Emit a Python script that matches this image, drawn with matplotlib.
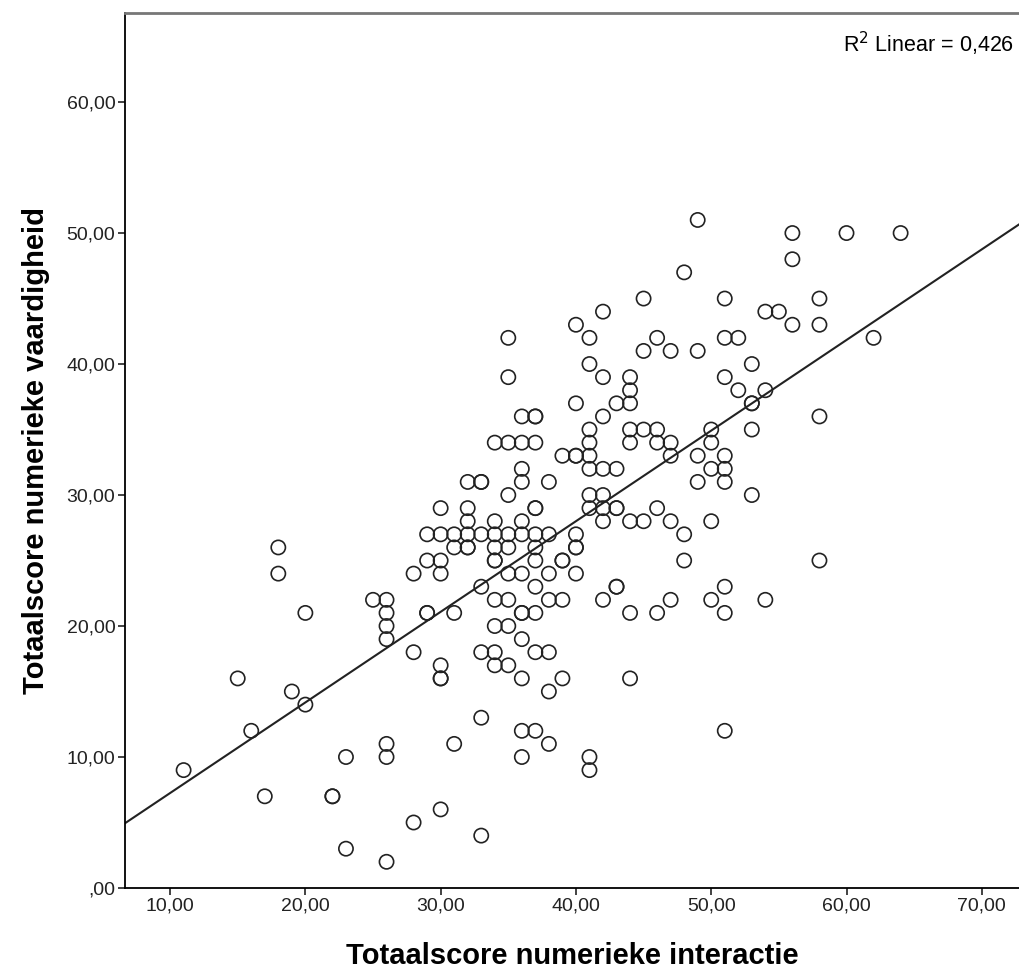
import numpy as np
import matplotlib.pyplot as plt

plt.rcParams['font.family'] = ['Liberation Sans', 'DejaVu Sans']

# scores (x = interactie, y = vaardigheid)
interactie = [11, 15, 16, 17, 18, 18, 19, 20, 20, 22, 22, 23, 23, 25, 26, 26, 26, 26, 26, 26, 26,
              28, 28, 28, 29, 29, 29, 29, 30, 30, 30, 30, 30, 30, 30, 30,
              31, 31, 31, 31, 32, 32, 32, 32, 32, 32,
              33, 33, 33, 33, 33, 33, 33,
              34, 34, 34, 34, 34, 34, 34, 34, 34, 34,
              35, 35, 35, 35, 35, 35, 35, 35, 35, 35,
              36, 36, 36, 36, 36, 36, 36, 36, 36, 36, 36, 36, 36,
              37, 37, 37, 37, 37, 37, 37, 37, 37, 37, 37, 37,
              38, 38, 38, 38, 38, 38, 38, 39, 39, 39, 39, 39,
              40, 40, 40, 40, 40, 40, 40, 40,
              41, 41, 41, 41, 41, 41, 41, 41, 41, 41,
              42, 42, 42, 42, 42, 42, 42, 42,
              43, 43, 43, 43, 43, 43,
              44, 44, 44, 44, 44, 44, 44, 44,
              45, 45, 45, 45, 46, 46, 46, 46, 46,
              47, 47, 47, 47, 47, 48, 48, 48,
              49, 49, 49, 49, 50, 50, 50, 50, 50,
              51, 51, 51, 51, 51, 51, 51, 51, 51, 52, 52,
              53, 53, 53, 53, 53, 54, 54, 54, 55,
              56, 56, 56, 58, 58, 58, 58, 60, 62, 64]
vaardigheid = [9, 16, 12, 7, 26, 24, 15, 21, 14, 7, 7, 10, 3, 22, 22, 21, 20, 19, 11, 10, 2,
               24, 18, 5, 27, 25, 21, 21, 29, 27, 25, 24, 17, 16, 16, 6,
               27, 26, 21, 11, 31, 29, 28, 27, 26, 26,
               31, 31, 27, 23, 18, 13, 4,
               34, 28, 27, 26, 25, 25, 22, 20, 18, 17,
               42, 39, 34, 30, 27, 26, 24, 22, 20, 17,
               36, 34, 32, 31, 28, 27, 24, 21, 21, 19, 16, 12, 10,
               36, 36, 34, 29, 29, 27, 26, 25, 23, 21, 18, 12,
               31, 27, 24, 22, 18, 15, 11, 33, 25, 25, 22, 16,
               43, 37, 33, 33, 27, 26, 26, 24,
               42, 40, 35, 34, 33, 32, 30, 29, 10, 9,
               44, 39, 36, 32, 30, 29, 28, 22,
               37, 32, 29, 29, 23, 23,
               39, 38, 37, 35, 34, 28, 21, 16,
               45, 41, 35, 28, 42, 35, 34, 29, 21,
               41, 34, 33, 28, 22, 47, 27, 25,
               51, 41, 33, 31, 35, 34, 32, 28, 22,
               45, 42, 39, 33, 32, 31, 23, 21, 12, 42, 38,
               40, 37, 37, 35, 30, 44, 38, 22, 44,
               50, 48, 43, 45, 43, 36, 25, 50, 42, 50]

x_ticks = [10, 20, 30, 40, 50, 60, 70]
y_ticks = [0, 10, 20, 30, 40, 50, 60]

x = np.array(interactie, dtype=float)
y = np.array(vaardigheid, dtype=float)
slope, intercept = np.polyfit(x, y, 1)

fig = plt.figure(figsize=(10.19, 9.77), dpi=100)
ax = fig.add_axes([0.1227, 0.0911, 0.8773, 0.8956])

ax.scatter(x, y, s=105, facecolors='none', edgecolors='#222222', linewidths=1.2, zorder=3)

xmin, xmax = 6.67, 72.75
xs = np.array([xmin, xmax])
ax.plot(xs, intercept + slope * xs, color='#222222', linewidth=1.5, zorder=2)

ax.set_xlim(xmin, xmax)
ax.set_ylim(0, 66.8)
ax.set_xticks(x_ticks)
ax.set_yticks(y_ticks)
ax.set_xticklabels([f"{t},00" for t in x_ticks])
ax.set_yticklabels([",00" if t == 0 else f"{t},00" for t in y_ticks])
ax.tick_params(direction='out', length=5, width=1.2, labelsize=14, colors='#222222', pad=2)

ax.spines['right'].set_visible(False)
ax.spines['top'].set_color('#777777')
ax.spines['top'].set_linewidth(2)
ax.spines['left'].set_linewidth(1.3)
ax.spines['bottom'].set_linewidth(1.3)

ax.set_xlabel("Totaalscore numerieke interactie", fontsize=21, fontweight='bold', labelpad=20)
ax.set_ylabel("Totaalscore numerieke vaardigheid", fontsize=21, fontweight='bold', labelpad=12)

ax.text(0.995, 0.9646, "R$^2$ Linear = 0,426", transform=ax.transAxes,
        ha='right', va='center', fontsize=15.5)

fig.savefig("out.png", dpi=100)
